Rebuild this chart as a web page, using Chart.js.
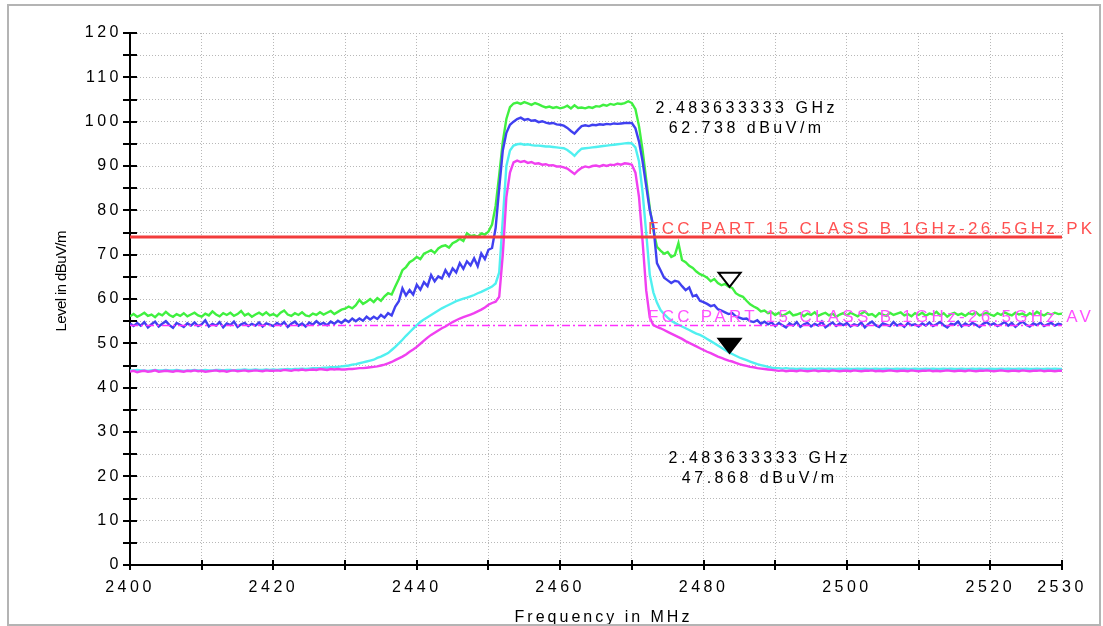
<!DOCTYPE html>
<html>
<head>
<meta charset="utf-8">
<title>Band edge scan</title>
<script src="https://cdn.jsdelivr.net/npm/chart.js@4.4.0/dist/chart.umd.min.js"></script>
<style>
  html, body { margin: 0; padding: 0; background: #fff; }
  #wrap { position: relative; width: 1103px; height: 626px; overflow: hidden; }
  #spectrum { position: absolute; left: 0; top: 0; }
  #frame { position: absolute; left: 7px; top: 4px; width: 1094px; height: 622px;
           border: 2px solid #b4b4b4; box-sizing: border-box; pointer-events: none; }
</style>
</head>
<body>
<div id="wrap">
  <canvas id="spectrum" width="1103" height="626"></canvas>
  <div id="frame"></div>
</div>
<script>
// sweep: 2400 - 2530 MHz, one reading every 0.5 MHz (one row = 10 MHz)
const startMHz = 2400;
const stepMHz = 0.5;

const greenTrace = [
  56.1, 56.6, 56.0, 56.4, 56.9, 56.2, 56.5, 55.9, 56.7, 56.3, 57.1, 56.4, 56.0, 56.6, 56.2, 56.8, 56.1, 56.5, 56.9, 56.3,
  56.0, 56.7, 56.3, 57.2, 56.5, 56.1, 56.8, 56.4, 56.9, 56.2, 56.6, 57.3, 56.3, 56.7, 56.0, 56.5, 56.9, 56.4, 57.0, 56.3,
  56.6, 56.1, 56.9, 57.4, 56.5, 56.2, 56.8, 56.4, 57.0, 56.3, 56.1, 56.7, 56.4, 57.0, 56.5, 56.9, 57.3, 56.6, 57.1, 57.6,
  57.8, 58.3, 57.9, 58.6, 59.8, 58.9, 59.4, 60.0, 59.3, 60.2, 59.6, 60.6, 61.3, 61.0, 62.8, 64.5, 66.5, 67.2, 68.3, 68.8,
  69.5, 69.0, 70.2, 70.6, 71.0, 70.4, 71.4, 71.9, 72.1, 71.6, 72.6, 73.0, 73.6, 73.1, 74.8, 74.2, 74.4, 74.0, 74.8, 74.5,
  75.2, 76.8, 81.0, 88.0, 95.5, 100.6, 103.3, 104.1, 104.3, 104.0, 104.4, 104.1, 103.8, 104.2, 103.9, 103.5, 103.2, 103.4, 103.1, 103.3,
  103.0, 103.2, 103.6, 103.0, 103.7, 103.1, 103.2, 103.0, 103.3, 103.1, 103.5, 103.4, 103.8, 103.6, 104.0, 103.8, 104.1, 104.0, 104.2, 104.6,
  104.2, 102.8, 99.0, 93.5, 87.0, 80.5, 75.6, 71.8, 70.9, 70.2, 70.6, 69.5, 69.9, 72.6, 68.8, 68.3, 67.5, 67.0, 66.2, 65.6,
  65.3, 64.8, 64.0, 64.5, 63.6, 63.1, 63.4, 62.8, 62.5, 61.3, 60.8, 60.5, 59.6, 58.8, 58.3, 57.9, 57.2, 57.4, 56.8, 57.0,
  56.4, 56.9, 56.2, 56.6, 57.1, 56.3, 56.5, 56.8, 56.1, 56.7, 56.4, 57.0, 56.2, 56.6, 56.9, 56.3, 56.7, 56.0, 56.5, 56.8,
  56.3, 56.9, 56.5, 56.1, 56.7, 57.2, 56.4, 56.6, 56.0, 56.8, 56.5, 56.2, 56.9, 56.4, 56.7, 57.0, 56.3, 56.6, 56.1, 56.8,
  56.4, 56.9, 56.2, 56.7, 56.5, 57.1, 56.3, 56.8, 56.0, 56.6, 56.9, 56.4, 56.7, 56.2, 56.8, 56.5, 57.0, 56.3, 56.6, 56.9,
  56.5, 56.2, 56.8, 56.4, 57.0, 56.6, 56.3, 56.9, 56.5, 56.7, 56.2, 56.8, 56.4, 57.1, 56.6, 56.3, 56.8, 56.5, 56.9, 56.6,
  56.7
];

const blueTrace = [
  54.5, 53.9, 54.6, 54.0, 54.8, 53.6, 54.3, 54.9, 53.8, 54.4, 55.0, 54.1, 53.5, 54.6, 54.2, 53.7, 54.5, 54.0, 54.7, 53.9,
  54.3, 55.2, 53.8, 54.4, 54.0, 54.8, 53.6, 54.5, 54.1, 54.9, 53.7, 54.3, 54.6, 53.9, 54.4, 54.0, 54.7, 53.8, 54.5, 54.2,
  53.9, 54.6, 54.1, 54.8, 53.7, 54.4, 54.9, 54.0, 54.5, 53.8, 54.7, 54.2, 55.0, 54.3, 54.6, 54.1, 54.9, 54.4, 55.1, 54.6,
  55.3, 54.8, 55.6, 55.0, 55.6, 55.1, 56.0, 55.4, 56.0, 55.5, 56.4, 55.8, 56.8, 56.3, 58.3, 59.5, 62.4, 60.8, 62.0, 61.0,
  63.2, 62.1, 63.8, 62.9, 65.4, 64.0, 65.1, 64.6, 66.5, 65.2, 66.9, 66.0, 68.1, 66.8, 68.5, 67.6, 69.2, 67.4, 70.3, 69.0,
  71.1, 71.5, 76.0, 85.0, 93.5, 97.5, 99.3, 100.0, 100.6, 100.9, 100.4, 100.6, 100.2, 100.3, 99.9, 100.1, 99.8, 99.6, 99.7, 99.4,
  99.3, 99.1, 98.6, 97.9, 97.3, 98.2, 99.0, 99.2, 99.0, 99.3, 99.2, 99.4, 99.3, 99.5, 99.4, 99.6, 99.5, 99.6, 99.7, 99.7,
  99.7, 98.5, 95.5, 91.0, 85.5, 80.0, 76.5, 68.1, 66.5, 64.8, 64.2, 63.6, 64.1, 63.9, 62.9, 62.0, 62.6, 60.6, 60.9, 59.6,
  59.3, 58.9, 58.4, 58.6, 57.7, 57.4, 57.0, 56.6, 56.8, 56.1, 55.8, 55.5, 55.6, 55.0, 54.8, 55.2, 54.4, 54.9, 54.3, 54.7,
  53.9, 54.6, 54.1, 53.6, 54.5, 54.0, 54.8, 53.7, 54.3, 54.6, 53.8, 54.4, 54.0, 54.9, 53.6, 54.2, 54.7, 53.9, 54.5, 54.1,
  54.6, 53.8, 54.3, 54.0, 54.7, 53.6, 54.4, 54.9, 54.1, 53.7, 54.5, 54.2, 53.9, 54.8, 54.0, 54.4, 53.7, 54.6, 54.1, 54.3,
  53.8, 54.5, 54.0, 54.7, 53.9, 54.3, 54.8, 54.1, 53.6, 54.4, 54.2, 54.9, 53.8, 54.5, 54.0, 54.6, 54.2, 53.7, 54.4, 54.8,
  54.1, 54.5, 53.9, 54.3, 54.8, 54.0, 54.6, 53.7, 54.4, 54.9, 54.2, 53.8, 54.5, 54.1, 54.7, 53.9, 54.3, 54.6, 54.0, 54.4,
  54.2
];

const cyanTrace = [
  43.9, 43.9, 44.0, 43.9, 43.9, 43.8, 43.9, 44.0, 43.9, 43.9, 44.0, 43.9, 43.9, 44.0, 43.9, 43.8, 43.9, 43.9, 44.0, 43.9,
  43.9, 44.0, 43.9, 43.9, 44.0, 44.0, 43.9, 44.0, 44.0, 43.9, 44.0, 44.0, 44.1, 44.0, 44.0, 44.1, 44.0, 44.0, 44.1, 44.0,
  44.1, 44.0, 44.1, 44.1, 44.2, 44.1, 44.2, 44.2, 44.3, 44.2, 44.3, 44.4, 44.4, 44.4, 44.5, 44.5, 44.6, 44.6, 44.7, 44.8,
  44.9, 45.0, 45.2, 45.3, 45.5, 45.7, 45.9, 46.1, 46.3, 46.7, 47.0, 47.4, 47.8, 48.5, 49.2, 50.0, 50.8, 51.7, 52.5, 53.3,
  54.1, 54.8, 55.4, 55.9, 56.4, 56.9, 57.4, 57.9, 58.3, 58.7, 59.1, 59.5, 59.8, 60.1, 60.3, 60.6, 60.9, 61.3, 61.6, 62.0,
  62.4, 62.8, 63.5, 66.0, 78.0, 90.0, 93.5, 94.6, 94.9, 95.0, 94.8, 94.9, 94.7, 94.6, 94.6, 94.5, 94.4, 94.4, 94.3, 94.2,
  94.1, 94.0, 93.6, 93.0, 92.3, 93.2, 93.9, 94.0, 94.1, 94.2, 94.3, 94.4, 94.5, 94.6, 94.7, 94.8, 94.9, 95.0, 95.1, 95.2,
  95.1, 94.2, 91.0, 84.0, 75.0, 65.5, 61.5, 59.2, 57.5, 56.6, 55.8, 55.1, 54.6, 54.2, 53.8, 53.4, 53.0, 52.6, 52.2, 51.9,
  51.5, 51.0, 50.5, 50.0, 49.5, 49.0, 48.5, 48.0, 47.6, 47.2, 46.8, 46.5, 46.2, 45.9, 45.6, 45.3, 45.1, 44.9, 44.7, 44.5,
  44.4, 44.4, 44.3, 44.4, 44.3, 44.3, 44.2, 44.3, 44.3, 44.2, 44.3, 44.2, 44.3, 44.3, 44.2, 44.3, 44.2, 44.2, 44.3, 44.2,
  44.3, 44.2, 44.2, 44.3, 44.2, 44.3, 44.2, 44.2, 44.3, 44.2, 44.2, 44.3, 44.2, 44.2, 44.3, 44.2, 44.3, 44.2, 44.2, 44.3,
  44.2, 44.2, 44.3, 44.2, 44.3, 44.2, 44.2, 44.3, 44.2, 44.3, 44.2, 44.2, 44.3, 44.2, 44.2, 44.3, 44.2, 44.3, 44.2, 44.2,
  44.3, 44.2, 44.2, 44.3, 44.2, 44.3, 44.2, 44.2, 44.3, 44.2, 44.3, 44.2, 44.2, 44.3, 44.2, 44.2, 44.3, 44.2, 44.3, 44.2,
  44.2
];

const magentaTrace = [
  43.6, 43.8, 43.5, 43.7, 43.8, 43.6, 43.7, 43.9, 43.6, 43.7, 43.8, 43.7, 43.6, 43.8, 43.7, 43.6, 43.8, 43.7, 43.9, 43.7,
  43.8, 43.6, 43.7, 43.8, 43.9, 43.7, 43.8, 43.6, 43.8, 43.9, 43.7, 43.8, 43.9, 43.7, 43.8, 43.9, 43.8, 43.7, 43.9, 43.8,
  43.8, 43.9, 43.8, 44.0, 43.9, 43.8, 44.0, 43.9, 44.1, 43.9, 44.0, 44.1, 44.0, 44.2, 44.1, 44.0, 44.2, 44.1, 44.2, 44.1,
  44.1, 44.2, 44.2, 44.3, 44.4, 44.4, 44.5, 44.6, 44.7, 44.8, 45.0, 45.2, 45.5, 45.8, 46.2, 46.6, 47.0, 47.5, 48.1, 48.6,
  49.2, 49.9, 50.6, 51.3, 51.9, 52.4, 52.9, 53.4, 53.8, 54.3, 54.8, 55.2, 55.6, 55.9, 56.2, 56.5, 56.8, 57.2, 57.6, 58.1,
  58.7, 59.1, 59.4, 60.5, 70.0, 83.0, 88.5, 90.8, 91.2, 90.9, 91.1, 90.7, 90.9, 90.5, 90.6, 90.3, 90.4, 90.1, 90.2, 89.9,
  89.9, 89.7, 89.4, 88.8, 88.2, 89.0, 89.6, 89.9, 89.7, 90.0, 90.1, 89.9, 90.2, 90.0, 90.3, 90.2, 90.5, 90.3, 90.6, 90.5,
  90.3, 88.5, 83.0, 73.0, 62.0, 55.8, 54.1, 53.7, 53.4, 53.0, 52.6, 52.2, 51.8, 51.4, 51.0, 50.5, 50.1, 49.7, 49.3, 48.9,
  48.5, 48.1, 47.8, 47.4, 47.0, 46.7, 46.4, 46.1, 45.9, 45.6, 45.3, 45.1, 44.9, 44.7, 44.6, 44.4, 44.3, 44.2, 44.1, 44.0,
  43.9, 43.8, 43.9, 43.7, 43.8, 43.8, 43.7, 43.9, 43.8, 43.7, 43.8, 43.9, 43.7, 43.8, 43.8, 43.7, 43.9, 43.8, 43.7, 43.8,
  43.8, 43.7, 43.9, 43.8, 43.7, 43.8, 43.8, 43.9, 43.7, 43.8, 43.7, 43.8, 43.9, 43.8, 43.7, 43.8, 43.8, 43.7, 43.9, 43.8,
  43.7, 43.8, 43.8, 43.9, 43.7, 43.8, 43.7, 43.8, 43.9, 43.8, 43.7, 43.8, 43.8, 43.7, 43.9, 43.8, 43.7, 43.8, 43.8, 43.9,
  43.8, 43.7, 43.8, 43.9, 43.8, 43.7, 43.8, 43.8, 43.7, 43.9, 43.8, 43.7, 43.8, 43.8, 43.9, 43.7, 43.8, 43.8, 43.7, 43.8,
  43.8
];

// limits (dBuV/m)
const pkLimit = 74;
const avLimit = 54;
const pkLimitLabel = 'FCC PART 15 CLASS B 1GHz-26.5GHz PK';
const avLimitLabel = 'FCC PART 15 CLASS B 1GHz-26.5GHz AV';

const xTickLabels = [2400, 2420, 2440, 2460, 2480, 2500, 2520, 2530];
const yTickLabels = [0, 10, 20, 30, 40, 50, 60, 70, 80, 90, 100, 110, 120];

// band edge markers: open = peak, filled = average
const markerFreqMHz = [2483.633333, 2483.633333];
const markerLevels = [62.738, 47.868];
const markerFilled = [false, true];

// where the marker readouts sit (px, centre / baseline of first line)
const readoutPos = [{ x: 745, y: 113 }, { x: 758, y: 463 }];

const FONT = "'Liberation Sans', Arial, sans-serif";

function toPoints(levels) {
  return levels.map((level, i) => ({ x: startMHz + i * stepMHz, y: level }));
}

function limitPoints(level) {
  return [{ x: startMHz, y: level }, { x: 2530, y: level }];
}

function drawText(ctx, text, x, y, size, color, spacing, align) {
  ctx.save();
  ctx.font = size + 'px ' + FONT;
  ctx.letterSpacing = spacing + 'px';
  ctx.fillStyle = color;
  ctx.textAlign = align;
  ctx.textBaseline = 'alphabetic';
  const shift = align === 'center' ? spacing / 2 : 0;
  ctx.fillText(text, x + shift, y);
  ctx.restore();
}

const overlay = {
  id: 'overlay',
  beforeDraw(chart) {
    chart.ctx.letterSpacing = '3.5px';
  },
  afterDraw(chart) {
    const { ctx, chartArea: area } = chart;
    const xs = chart.scales.x;
    const ys = chart.scales.y;

    // tick marks crossing both axes
    ctx.save();
    ctx.strokeStyle = '#000';
    ctx.lineWidth = 2;
    ctx.beginPath();
    ys.ticks.forEach(t => {
      const py = Math.round(ys.getPixelForValue(t.value));
      ctx.moveTo(area.left - 7, py);
      ctx.lineTo(area.left + 7, py);
    });
    xs.ticks.forEach(t => {
      const px = Math.round(xs.getPixelForValue(t.value));
      ctx.moveTo(px, area.bottom - 5);
      ctx.lineTo(px, area.bottom + 5);
    });
    ctx.stroke();
    ctx.restore();

    // limit line captions
    drawText(ctx, pkLimitLabel, 648, ys.getPixelForValue(pkLimit) - 3, 17, '#ff5050', 3.3, 'left');
    drawText(ctx, avLimitLabel, 648, ys.getPixelForValue(avLimit) - 4, 17, '#ff50ff', 3.3, 'left');

    // markers (tip on the measured point) and their readouts
    markerFreqMHz.forEach((f, i) => {
      const px = xs.getPixelForValue(f);
      const py = ys.getPixelForValue(markerLevels[i]);
      ctx.save();
      ctx.beginPath();
      ctx.moveTo(px, py);
      ctx.lineTo(px - 11, py - 14);
      ctx.lineTo(px + 11, py - 14);
      ctx.closePath();
      ctx.lineWidth = 2;
      ctx.strokeStyle = '#000';
      ctx.fillStyle = markerFilled[i] ? '#000' : '#fff';
      ctx.fill();
      ctx.stroke();
      ctx.restore();

      const pos = readoutPos[i];
      drawText(ctx, (f / 1000).toFixed(9) + ' GHz', pos.x, pos.y, 16, '#000', 3.5, 'center');
      drawText(ctx, markerLevels[i].toFixed(3) + ' dBuV/m', pos.x, pos.y + 20, 16, '#000', 3.5, 'center');
    });

    // axis titles
    ctx.save();
    ctx.translate(61, 281);
    ctx.rotate(-Math.PI / 2);
    drawText(ctx, 'Level in dBuV/m', 0, 5, 15, '#000', -0.6, 'center');
    ctx.restore();
    drawText(ctx, 'Frequency in MHz', 602, 622, 16, '#000', 3, 'center');
  }
};

const gridStyle = { color: '#b8b8b8', lineWidth: 1, drawTicks: false };
const axisBorder = { display: true, color: '#000', width: 2, dash: [1, 2] };

new Chart(document.getElementById('spectrum'), {
  type: 'line',
  data: {
    datasets: [
      { data: limitPoints(pkLimit), borderColor: '#f23c3c', borderWidth: 3 },
      { data: limitPoints(avLimit), borderColor: '#ff30ff', borderWidth: 1.5, borderDash: [8, 3, 2, 3] },
      { data: toPoints(magentaTrace), borderColor: '#f040f0', borderWidth: 2.4 },
      { data: toPoints(cyanTrace), borderColor: '#50f0f0', borderWidth: 2.4 },
      { data: toPoints(blueTrace), borderColor: '#4040f0', borderWidth: 2.4 },
      { data: toPoints(greenTrace), borderColor: '#40f040', borderWidth: 2.4 }
    ]
  },
  options: {
    responsive: false,
    animation: false,
    normalized: true,
    elements: { point: { radius: 0 }, line: { tension: 0, fill: false } },
    layout: { padding: { left: 0, top: 33, right: 41, bottom: 0 } },
    plugins: { legend: { display: false }, tooltip: { enabled: false } },
    scales: {
      x: {
        type: 'linear',
        min: 2400,
        max: 2530,
        grid: gridStyle,
        border: axisBorder,
        afterFit: s => { s.height = 61; },
        ticks: {
          stepSize: 10,
          autoSkip: false,
          maxRotation: 0,
          padding: 13,
          color: '#000',
          font: { family: FONT, size: 16 },
          callback: v => xTickLabels.includes(v) ? String(v) : ''
        }
      },
      y: {
        min: 0,
        max: 120,
        grid: gridStyle,
        border: axisBorder,
        afterFit: s => { s.width = 130; },
        ticks: {
          stepSize: 5,
          autoSkip: false,
          padding: 8,
          color: '#000',
          font: { family: FONT, size: 16 },
          callback: v => yTickLabels.includes(v) ? String(v) : ''
        }
      }
    }
  },
  plugins: [overlay]
});
</script>
</body>
</html>
